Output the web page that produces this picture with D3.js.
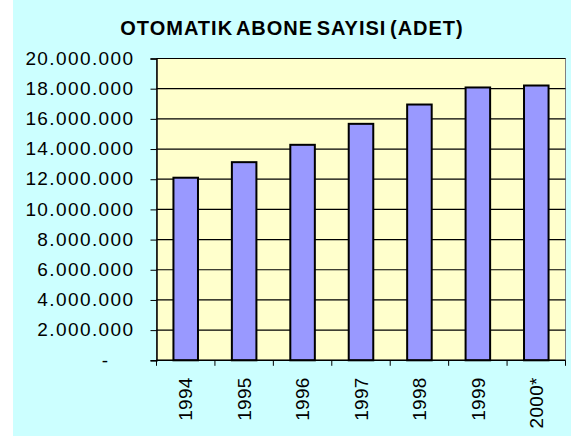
<!DOCTYPE html>
<html lang="tr">
<head>
    <meta charset="utf-8">
    <title>Otomatik abone sayisi</title>
    <style>
        body {
            margin: 0;
            background: #ffffff;
        }
        svg text {
            font-family: Arial, "Liberation Sans", sans-serif;
            fill: #000;
        }
        .bar {
            fill: #9999ff;
            stroke: #000;
            stroke-width: 2px;
        }
        .grid line {
            stroke: #000;
            stroke-width: 1.2px;
        }
    </style>
    <script src="https://cdn.jsdelivr.net/npm/d3@7"></script>
</head>
<body>
<div id="chart"></div>
<script>
// data
var years = ["1994", "1995", "1996", "1997", "1998", "1999", "2000*"];
var subscribers = [12100000, 13130000, 14280000, 15670000, 16950000, 18080000, 18210000];
var tickValues = [0, 2000000, 4000000, 6000000, 8000000, 10000000, 12000000, 14000000, 16000000, 18000000, 20000000];
var tickLabels = ["-", "2.000.000", "4.000.000", "6.000.000", "8.000.000", "10.000.000",
                  "12.000.000", "14.000.000", "16.000.000", "18.000.000", "20.000.000"];
var title = "OTOMATIK ABONE SAYISI (ADET)";

var W = 571, H = 436;
var margin = { top: 58.5, right: 5.5, bottom: 75.7, left: 156.5 };
var width = W - margin.left - margin.right,
    height = H - margin.top - margin.bottom;

var svg = d3.select("#chart").append("svg")
    .attr("width", W)
    .attr("height", H);

// chart area background
svg.append("rect")
    .attr("x", 13).attr("y", 0)
    .attr("width", W - 13).attr("height", H)
    .attr("fill", "#ccffff");

// title
svg.append("text")
    .attr("x", 292)
    .attr("y", 35)
    .attr("text-anchor", "middle")
    .style("font-size", "20px")
    .style("font-weight", "bold")
    .style("letter-spacing", "1px")
    .style("word-spacing", "-3px")
    .text(title);

var g = svg.append("g")
    .attr("transform", "translate(" + margin.left + "," + margin.top + ")");

// scales
var x = d3.scaleBand()
    .domain(years)
    .range([0, width])
    .padding(0);
var y = d3.scaleLinear()
    .domain([0, 20000000])
    .range([height, 0]);

// plot area
g.append("rect")
    .attr("width", width)
    .attr("height", height)
    .attr("fill", "#ffffcc")
    .attr("stroke", "#808080")
    .attr("stroke-width", 1);

// gridlines
g.append("g")
    .attr("class", "grid")
    .selectAll("line")
    .data(tickValues.filter(function(d) { return d > 0; }))
    .enter().append("line")
    .attr("x1", 0)
    .attr("x2", width)
    .attr("y1", function(d) { return y(d); })
    .attr("y2", function(d) { return y(d); });

// bars
var barW = x.bandwidth() * 0.42;
g.selectAll(".bar")
    .data(subscribers)
    .enter().append("rect")
    .attr("class", "bar")
    .attr("x", function(d, i) { return x(years[i]) + (x.bandwidth() - barW) / 2; })
    .attr("width", barW)
    .attr("y", function(d) { return y(d); })
    .attr("height", function(d) { return height - y(d); });

// y axis
var yAxis = g.append("g")
    .call(d3.axisLeft(y)
        .tickValues(tickValues)
        .tickSize(6)
        .tickPadding(0)
        .tickFormat(function(d, i) { return tickLabels[i]; }));
yAxis.select(".domain").attr("stroke", "#000").attr("stroke-width", 1.5);
yAxis.selectAll(".tick line").attr("stroke", "#000");
yAxis.selectAll(".tick text")
    .attr("x", function(d) { return d === 0 ? -47 : -22; })
    .attr("dy", "0.3em")
    .style("font-size", "19px")
    .style("letter-spacing", "1.4px")
    .style("font-family", "Arial, 'Liberation Sans', sans-serif");

// x axis: ticks between categories
var xAxis = g.append("g")
    .attr("transform", "translate(0," + height + ")");
xAxis.append("line")
    .attr("x1", 0).attr("x2", width)
    .attr("stroke", "#000").attr("stroke-width", 1.5);
xAxis.selectAll(".xtick")
    .data(d3.range(years.length + 1))
    .enter().append("line")
    .attr("class", "xtick")
    .attr("x1", function(i) { return i * x.step(); })
    .attr("x2", function(i) { return i * x.step(); })
    .attr("y1", 0).attr("y2", 5.5)
    .attr("stroke", "#000");
xAxis.selectAll(".xlabel")
    .data(years)
    .enter().append("text")
    .attr("class", "xlabel")
    .attr("transform", function(d) {
        return "translate(" + (x(d) + x.bandwidth() / 2) + ",17) rotate(-90)";
    })
    .attr("text-anchor", "end")
    .attr("dy", "0.35em")
    .style("font-size", "19px")
    .style("letter-spacing", "0.3px")
    .text(function(d) { return d; });
</script>
</body>
</html>
